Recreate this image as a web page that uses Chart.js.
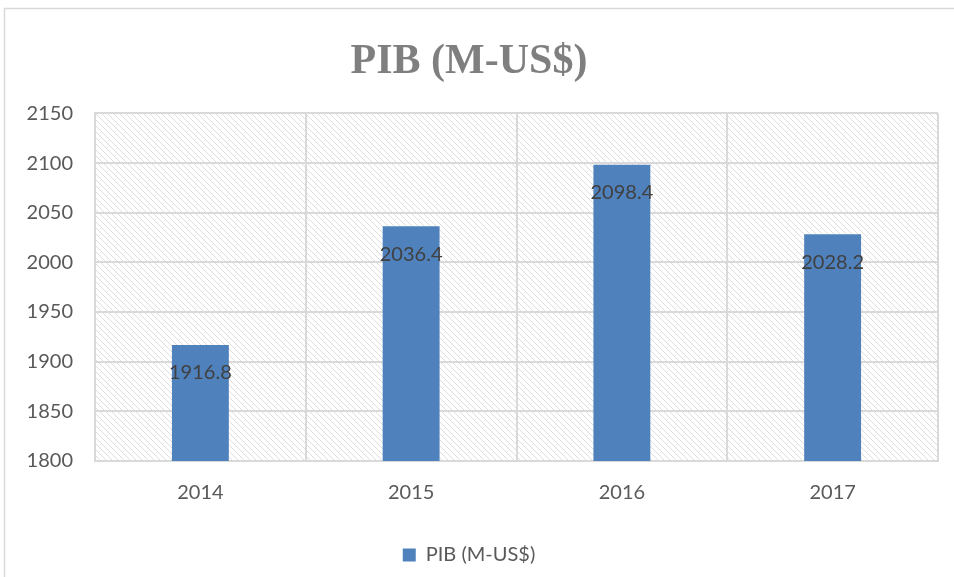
<!DOCTYPE html>
<html lang="es">
<head>
    <meta charset="UTF-8">
    <title>PIB (M-US$)</title>
    <script src="https://cdn.jsdelivr.net/npm/chart.js"></script>
    <style>
        html, body { margin: 0; padding: 0; background: #fff; }
        #wrap { width: 954px; height: 577px; }
    </style>
</head>
<body>
    <div id="wrap"><canvas id="pibChart" width="954" height="577"></canvas></div>

    <script>
        // Datos del gráfico
        const years = ['2014', '2015', '2016', '2017'];
        const pibValues = [1916.8, 2036.4, 2098.4, 2028.2];
        const seriesName = 'PIB (M-US$)';
        const yMin = 1800;
        const yMax = 2150;
        const yStep = 50;

        const labelFont = 'Lato, "Open Sans", sans-serif';

        // Fondo rayado del área de trazado
        function makeHatch(ctx) {
            const p = document.createElement('canvas');
            p.width = 6;
            p.height = 6;
            const c = p.getContext('2d');
            c.strokeStyle = '#dedede';
            c.lineWidth = 1;
            c.beginPath();
            c.moveTo(-1, -1); c.lineTo(7, 7);
            c.moveTo(-4, 2); c.lineTo(4, 10);
            c.moveTo(2, -4); c.lineTo(10, 4);
            c.stroke();
            return ctx.createPattern(p, 'repeat');
        }

        const backgroundPlugin = {
            id: 'hatchBackground',
            beforeDraw(chart) {
                const { ctx, chartArea: a } = chart;
                ctx.save();
                // marco exterior
                ctx.strokeStyle = '#d9d9d9';
                ctx.lineWidth = 1.5;
                ctx.strokeRect(4.5, 8.5, 960, 580);
                ctx.fillStyle = makeHatch(ctx);
                ctx.fillRect(a.left, a.top, a.right - a.left, a.bottom - a.top);
                ctx.restore();
            }
        };

        // Etiquetas de datos dentro de la barra
        const dataLabelPlugin = {
            id: 'barValues',
            afterDatasetsDraw(chart) {
                const { ctx } = chart;
                const meta = chart.getDatasetMeta(0);
                ctx.save();
                ctx.fillStyle = '#404040';
                ctx.font = '20px ' + labelFont;
                ctx.textAlign = 'center';
                ctx.textBaseline = 'middle';
                meta.data.forEach((bar, i) => {
                    ctx.fillText(pibValues[i].toFixed(1), bar.x, bar.y + 28);
                });
                ctx.restore();
            }
        };

        const config = {
            type: 'bar',
            data: {
                labels: years,
                datasets: [{
                    label: seriesName,
                    data: pibValues,
                    backgroundColor: '#4f81bd',
                    borderWidth: 0,
                    barPercentage: 0.27,
                    categoryPercentage: 1.0
                }]
            },
            options: {
                responsive: false,
                animation: false,
                layout: { padding: { left: 0, right: 16, top: 21, bottom: 2 } },
                plugins: {
                    title: {
                        display: true,
                        text: seriesName,
                        color: '#7f7f7f',
                        font: { family: '"Liberation Serif", serif', size: 42, weight: 'bold' },
                        padding: { top: 16, bottom: 26 }
                    },
                    legend: {
                        position: 'bottom',
                        labels: {
                            color: '#595959',
                            font: { family: labelFont, size: 20 },
                            boxWidth: 13,
                            boxHeight: 13,
                            padding: 20
                        }
                    },
                    tooltip: { enabled: false }
                },
                scales: {
                    x: {
                        grid: { color: '#d9d9d9', lineWidth: 2, offset: true, drawTicks: false },
                        border: { color: '#d9d9d9', width: 2 },
                        ticks: { color: '#595959', font: { family: labelFont, size: 20 }, padding: 20 }
                    },
                    y: {
                        min: yMin,
                        max: yMax,
                        grid: { color: '#d9d9d9', lineWidth: 2, drawTicks: false },
                        border: { color: '#d9d9d9', width: 2 },
                        ticks: {
                            stepSize: yStep,
                            color: '#595959',
                            font: { family: labelFont, size: 20 },
                            padding: 22,
                            callback: (v) => String(v)
                        },
                        afterFit(scale) { scale.width = 95; }
                    }
                }
            },
            plugins: [backgroundPlugin, dataLabelPlugin]
        };

        const ctx = document.getElementById('pibChart').getContext('2d');
        new Chart(ctx, config);
    </script>
</body>
</html>
